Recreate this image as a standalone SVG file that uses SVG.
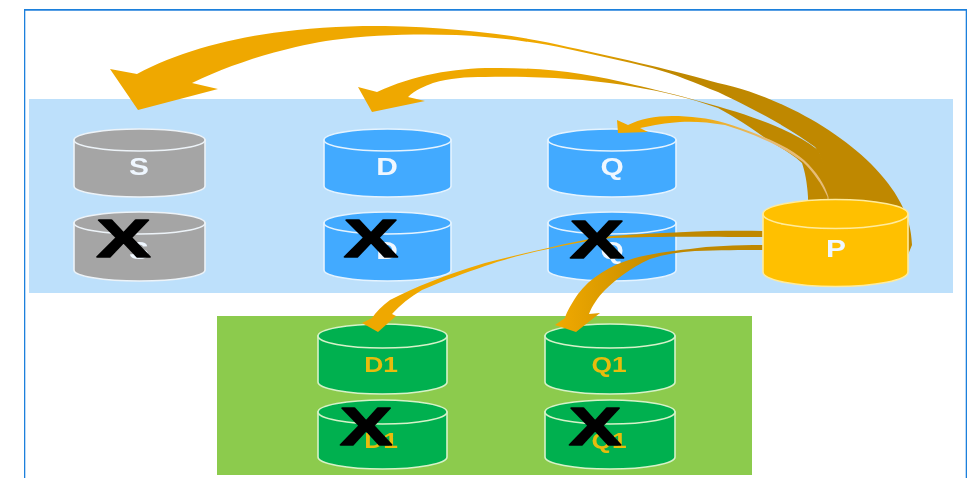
<svg xmlns="http://www.w3.org/2000/svg" width="970" height="478" viewBox="0 0 970 478">
<style>
.blue{fill:#42AAFF;stroke:#E4F3FF}
.grey{fill:#A5A5A5;stroke:#EDF3F8}
.green{fill:#00B050;stroke:#D6F2C8}
.gold{fill:#FFC000;stroke:#FFEB9C}
.cyl path,.cyl ellipse{stroke-width:1.6}
text{font-family:"Liberation Sans",Arial,sans-serif;font-weight:bold;text-anchor:middle}
.w{fill:#EFF7FF;font-size:23px}
.y{fill:#E8BC0C;font-size:22px}
.x{fill:#000;stroke:#000;stroke-width:1.5px;stroke-linejoin:round;font-size:54px}
.arrow{fill:url(#g)}
</style>
<defs>
<linearGradient id="g" gradientUnits="userSpaceOnUse" x1="560" y1="0" x2="670" y2="0">
<stop offset="0" stop-color="#EFA800"/><stop offset="1" stop-color="#BF8800"/>
</linearGradient>
<linearGradient id="g2" gradientUnits="userSpaceOnUse" x1="690" y1="0" x2="770" y2="0">
<stop offset="0" stop-color="#EFA800"/><stop offset="1" stop-color="#E6BC78"/>
</linearGradient>
<filter id="soft" x="0" y="0" width="100%" height="100%"><feGaussianBlur stdDeviation="0.5"/></filter>
</defs>
<rect width="970" height="478" fill="#fff"/>
<g filter="url(#soft)">
<path d="M24,480V9.5H967V480" fill="none" stroke="#1F80DC" stroke-width="2.6"/>
<rect x="29" y="99" width="924" height="194" fill="#BDE0FB"/>
<rect x="217" y="316" width="535" height="159" fill="#8CCB4E"/>

<g id="node-s" class="cyl"><path class="grey" d="M74,140V186A65.5,11 0 0 0 205,186V140Z"/><ellipse class="grey" cx="139.500" cy="140" rx="65.500" ry="11"/><text class="w" transform="translate(139,175) scale(1.3,1)">S</text></g>
<g id="node-s2" class="cyl"><path class="grey" d="M74,223V270A65.5,11 0 0 0 205,270V223Z"/><ellipse class="grey" cx="139.500" cy="223" rx="65.500" ry="11"/><text class="w" transform="translate(139,259) scale(1.3,1)">S</text></g>
<g id="node-d" class="cyl"><path class="blue" d="M324,140V186A63.5,11 0 0 0 451,186V140Z"/><ellipse class="blue" cx="387.500" cy="140" rx="63.500" ry="11"/><text class="w" transform="translate(387,175) scale(1.3,1)">D</text></g>
<g id="node-d2" class="cyl"><path class="blue" d="M324,223V270A63.5,11 0 0 0 451,270V223Z"/><ellipse class="blue" cx="387.500" cy="223" rx="63.500" ry="11"/><text class="w" transform="translate(387,259) scale(1.3,1)">D</text></g>
<g id="node-q" class="cyl"><path class="blue" d="M548,140V186A64,11 0 0 0 676,186V140Z"/><ellipse class="blue" cx="612" cy="140" rx="64" ry="11"/><text class="w" transform="translate(612,175) scale(1.3,1)">Q</text></g>
<g id="node-q2" class="cyl"><path class="blue" d="M548,223V270A64,11 0 0 0 676,270V223Z"/><ellipse class="blue" cx="612" cy="223" rx="64" ry="11"/><text class="w" transform="translate(612,259) scale(1.3,1)">Q</text></g>
<g id="node-d1" class="cyl"><path class="green" d="M318,336V382A64.500,12 0 0 0 447,382V336Z"/><ellipse class="green" cx="382.500" cy="336" rx="64.500" ry="12"/><text class="y" transform="translate(381,372) scale(1.2,1)">D1</text></g>
<g id="node-d1b" class="cyl"><path class="green" d="M318,412V457A64.500,12 0 0 0 447,457V412Z"/><ellipse class="green" cx="382.500" cy="412" rx="64.500" ry="12"/><text class="y" transform="translate(381,448) scale(1.2,1)">D1</text></g>
<g id="node-q1" class="cyl"><path class="green" d="M545,336V382A65,12 0 0 0 675,382V336Z"/><ellipse class="green" cx="610" cy="336" rx="65" ry="12"/><text class="y" transform="translate(609,372) scale(1.2,1)">Q1</text></g>
<g id="node-q1b" class="cyl"><path class="green" d="M545,412V457A65,12 0 0 0 675,457V412Z"/><ellipse class="green" cx="610" cy="412" rx="65" ry="12"/><text class="y" transform="translate(609,448) scale(1.2,1)">Q1</text></g>

<g id="connectors">
<path id="p-s" class="arrow" d="M110,69L137,74C200,40 290,25 385,26C450,27 520,35 568,47C620,58 680,72 718,83C800,100 912,170 912,245L905,262L830,240L829,197C827,175 822,155 815,147C790,128 750,107 718,92C695,83 675,74 652,68C625,61 595,55 568,49C540,43 510,39 485,37C440,33 380,34 333,40C290,46 235,62 192,83L218,89L138,110Z"/>
<path id="p-d" class="arrow" d="M358,87L377,92C415,74 460,67 500,68C550,68 590,74 635,85C670,93 730,108 768,123C790,132 805,140 818,150C826,165 830,185 830,197V225H808V197C807,182 805,172 802,163C790,152 775,145 768,140C750,127 735,117 718,108C690,98 660,91 635,87C590,79 540,76 485,77C465,77 450,78 433,83C425,86 415,90 408,97L425,101L372,112Z"/>
<path id="p-q" fill="url(#g2)" d="M617,120L628,125C640,119 655,116 672,116C690,116 708,118 725,123C760,134 790,147 804,160C817,172 825,185 828.500,197V225H827.500V197C822,184 813,172 803,162C785,148 755,134 725,125C708,122 692,121 680,122C665,123 655,125 640,128L648,132L618,133Z"/>
<path id="p-d1" class="arrow" d="M763,231C720,230 670,232 612,236C585,239 565,244 548,248C525,253 505,258 485,263C445,275 415,287 390,300C382,306 376,312 372,318L362,323L378,332L396,316L392,314C400,305 410,297 422,290C445,280 465,273 485,266C505,259 528,253 548,249C570,244 590,240 612,238C660,236 720,237 763,237Z"/>
<path id="p-q1" class="arrow" d="M763,245C735,245 710,246 690,249C670,251 650,254 635,258C610,265 590,278 578,294C572,303 567,311 565,318L555,325L576,332L600,313L589,314C592,306 598,297 605,290C615,280 630,268 650,259C665,254 680,252 695,251C720,250 740,250 763,250Z"/>
</g>

<g id="node-p" class="cyl"><path class="gold" d="M763,214V272A72.500,14.500 0 0 0 908,272V214Z"/><ellipse class="gold" cx="835.500" cy="214" rx="72.500" ry="14.500"/><text class="w" transform="translate(836,257) scale(1.3,1)">P</text></g>

<g id="marks">
<text class="x" transform="translate(123.500,257) scale(1.5,1)">X</text>
<text class="x" transform="translate(371,257) scale(1.5,1)">X</text>
<text class="x" transform="translate(597,258) scale(1.5,1)">X</text>
<text class="x" transform="translate(366,445) scale(1.45,1)">X</text>
<text class="x" transform="translate(595,445) scale(1.45,1)">X</text>
</g>
</g>
</svg>
